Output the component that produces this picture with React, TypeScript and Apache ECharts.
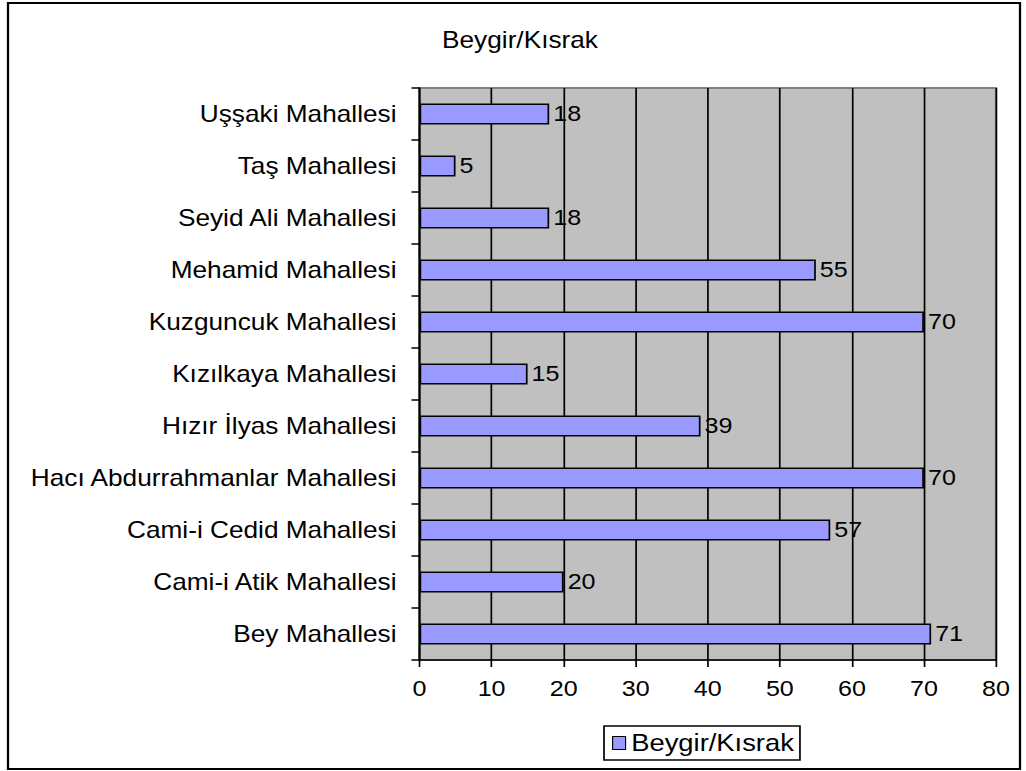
import React, { useEffect, useRef } from "react";
import * as echarts from "echarts";

const categories = [
  "Bey Mahallesi",
  "Cami-i Atik Mahallesi",
  "Cami-i Cedid Mahallesi",
  "Hacı Abdurrahmanlar Mahallesi",
  "Hızır İlyas Mahallesi",
  "Kızılkaya Mahallesi",
  "Kuzguncuk Mahallesi",
  "Mehamid Mahallesi",
  "Seyid Ali Mahallesi",
  "Taş Mahallesi",
  "Uşşaki Mahallesi",
];
const values = [71, 20, 57, 70, 39, 15, 70, 55, 18, 5, 18];
const seriesName = "Beygir/Kısrak";
const titleText = "Beygir/Kısrak";

const FONT = "'Liberation Sans', Arial, sans-serif";
// the reference is horizontally stretched; draw narrower and stretch
const S = 1.14;
const PAGE_W = 1026;
const PAGE_H = 771;
const W = PAGE_W / S;
const sx = (v: number) => v / S;

export default function App() {
  const ref = useRef<HTMLDivElement>(null);
  useEffect(() => {
    if (!ref.current) return;
    const chart = echarts.init(ref.current, null, { renderer: "svg" });
    chart.setOption({
      animation: false,
      backgroundColor: "#ffffff",
      textStyle: { fontFamily: FONT, color: "#000" },
      grid: {
        left: sx(419.5),
        right: W - sx(996),
        top: 88,
        bottom: 111,
        show: true,
        backgroundColor: "#C0C0C0",
        borderColor: "#808080",
        borderWidth: 2,
        containLabel: false,
      },
      xAxis: {
        type: "value",
        min: 0,
        max: 80,
        interval: 10,
        axisLine: { show: true, lineStyle: { color: "#000", width: 1.5 } },
        axisTick: { show: true, length: 7, lineStyle: { color: "#000", width: 1.5 } },
        splitLine: { show: true, lineStyle: { color: "#000", width: 1.5 } },
        axisLabel: { color: "#000", fontSize: 22, fontFamily: FONT, margin: 18 },
      },
      yAxis: {
        type: "category",
        data: categories,
        axisLine: { show: true, lineStyle: { color: "#000", width: 1.5 } },
        axisTick: { show: true, length: sx(8), lineStyle: { color: "#000", width: 1.5 } },
        splitLine: { show: false },
        axisLabel: { color: "#000", fontSize: 23, fontFamily: FONT, margin: sx(23) },
      },
      legend: {
        data: [seriesName],
        left: sx(604),
        top: 726,
        padding: [5, sx(6), 5, sx(8)],
        borderColor: "#000",
        borderWidth: 1.5,
        itemWidth: sx(13),
        itemHeight: 13,
        itemGap: sx(8),
        icon: "rect",
        itemStyle: { color: "#9999FF", borderColor: "#000", borderWidth: 1 },
        textStyle: { color: "#000", fontSize: 24, fontFamily: FONT },
      },
      graphic: [
        {
          type: "rect",
          shape: { x: sx(8), y: 3, width: sx(1012), height: 766 },
          style: { fill: "none", stroke: "#000", lineWidth: 2 },
          z: 100,
        },
        {
          type: "text",
          x: sx(520),
          y: 40,
          style: {
            text: titleText,
            fontSize: 23,
            fontFamily: FONT,
            fill: "#000",
            textAlign: "center",
            textVerticalAlign: "middle",
          },
        },
      ],
      series: [
        {
          name: seriesName,
          type: "bar",
          data: values,
          barWidth: "40%",
          itemStyle: { color: "#9999FF", borderColor: "#000", borderWidth: 1.5 },
          label: {
            show: true,
            position: "right",
            distance: sx(4),
            color: "#000",
            fontSize: 22,
            fontFamily: FONT,
          },
        },
      ],
    });
    return () => chart.dispose();
  }, []);
  return (
    <div
      ref={ref}
      style={{
        position: "absolute",
        left: 0,
        top: 0,
        width: W,
        height: PAGE_H,
        transform: `scaleX(${S})`,
        transformOrigin: "0 0",
      }}
    />
  );
}
